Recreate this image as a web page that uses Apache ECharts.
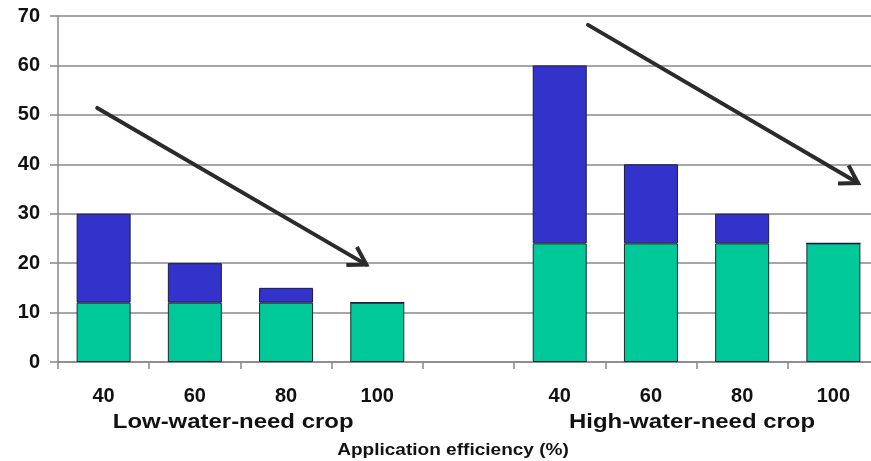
<!DOCTYPE html>
<html>
<head>
<meta charset="utf-8">
<script src="https://cdn.jsdelivr.net/npm/echarts@6/dist/echarts.min.js"></script>
<style>html,body{margin:0;padding:0;background:#fff;overflow:hidden}#c{width:879px;height:461px}</style>
</head>
<body>
<div id="c"></div>
<script>
// Data
var categories = ['40', '60', '80', '100', '', '40', '60', '80', '100'];
var baseValues = [12, 12, 12, 12, null, 24, 24, 24, 24];        // green part
var extraValues = [18, 8, 3, 0, null, 36, 16, 6, 0];            // blue part (totals 30,20,15,12 / 60,40,30,24)
var yTicks = [0, 10, 20, 30, 40, 50, 60, 70];
var groupLabels = ['Low-water-need crop', 'High-water-need crop'];
var groupCenters = [1.42, 6.45];        // in category-index units
var axisTitle = 'Application efficiency (%)';
// Arrows in data space: [catIndex, value]
var arrows = [
  [[-0.07, 51.4], [2.88, 19.7]],
  [[5.31, 68.2], [8.27, 36.2]]
];

var chart = echarts.init(document.getElementById('c'));
var font = 'Liberation Sans, Arial, sans-serif';
chart.setOption({
  animation: false,
  grid: { left: 58, top: 16, right: 0, bottom: 99, containLabel: false },
  xAxis: {
    type: 'category',
    data: categories,
    axisLine: { lineStyle: { color: '#888', width: 1.5 } },
    axisTick: { show: true, length: 7, lineStyle: { color: '#888', width: 1.5 } },
    axisLabel: { color: '#111', fontSize: 20, fontWeight: 'bold', fontFamily: font, margin: 24 }
  },
  yAxis: {
    type: 'value',
    min: 0, max: 70, interval: 10,
    axisLine: { show: true, lineStyle: { color: '#888', width: 1.5 } },
    axisTick: { show: true, length: 8, lineStyle: { color: '#888', width: 1.5 } },
    splitLine: { lineStyle: { color: '#888', width: 1.5 } },
    axisLabel: { color: '#111', fontSize: 20, fontWeight: 'bold', fontFamily: font, margin: 18,
      formatter: function (v) { return yTicks.indexOf(v) >= 0 ? String(v) : ''; } }
  },
  series: [
    { type: 'bar', stack: 'a', data: baseValues, barWidth: 54,
      itemStyle: { color: '#00C999', borderColor: '#1a2a2a', borderWidth: 1 } },
    { type: 'bar', stack: 'a', data: extraValues, barWidth: 54,
      itemStyle: { color: '#3333CC', borderColor: '#1a1a40', borderWidth: 1 } }
  ]
});

// convert fractional category index + value to pixel
function toPx(pt) {
  var a = chart.convertToPixel({ gridIndex: 0 }, [0, pt[1]]);
  var b = chart.convertToPixel({ gridIndex: 0 }, [1, pt[1]]);
  var band = b[0] - a[0];
  return [a[0] + pt[0] * band, a[1]];
}

function drawOverlay() {
  var els = [];
  arrows.forEach(function (a) {
    var p0 = toPx(a[0]);
    var p1 = toPx(a[1]);
    var ang = Math.atan2(p1[1] - p0[1], p1[0] - p0[0]);
    var L = 20, spread = 0.55;
    var h1 = [p1[0] - L * Math.cos(ang - spread), p1[1] - L * Math.sin(ang - spread)];
    var h2 = [p1[0] - L * Math.cos(ang + spread), p1[1] - L * Math.sin(ang + spread)];
    els.push({ type: 'line', shape: { x1: p0[0], y1: p0[1], x2: p1[0], y2: p1[1] },
      style: { stroke: '#2b2b2b', lineWidth: 4, lineCap: 'round' }, z: 10 });
    els.push({ type: 'polyline', shape: { points: [h1, p1, h2] },
      style: { stroke: '#2b2b2b', lineWidth: 4, fill: null, lineJoin: 'miter', lineCap: 'butt' }, z: 10 });
  });
  groupLabels.forEach(function (t, i) {
    var p = toPx([groupCenters[i], 0]);
    els.push({ type: 'text', x: p[0], y: 422, scaleX: 1.14,
      style: { text: t, fill: '#111', font: 'bold 21px ' + font, align: 'center', verticalAlign: 'middle' } });
  });
  els.push({ type: 'text', x: 453, y: 450, scaleX: 1.12,
    style: { text: axisTitle, fill: '#111', font: 'bold 17px ' + font, align: 'center', verticalAlign: 'middle' } });
  chart.setOption({ graphic: { elements: els } });
}
drawOverlay();
</script>
</body>
</html>
